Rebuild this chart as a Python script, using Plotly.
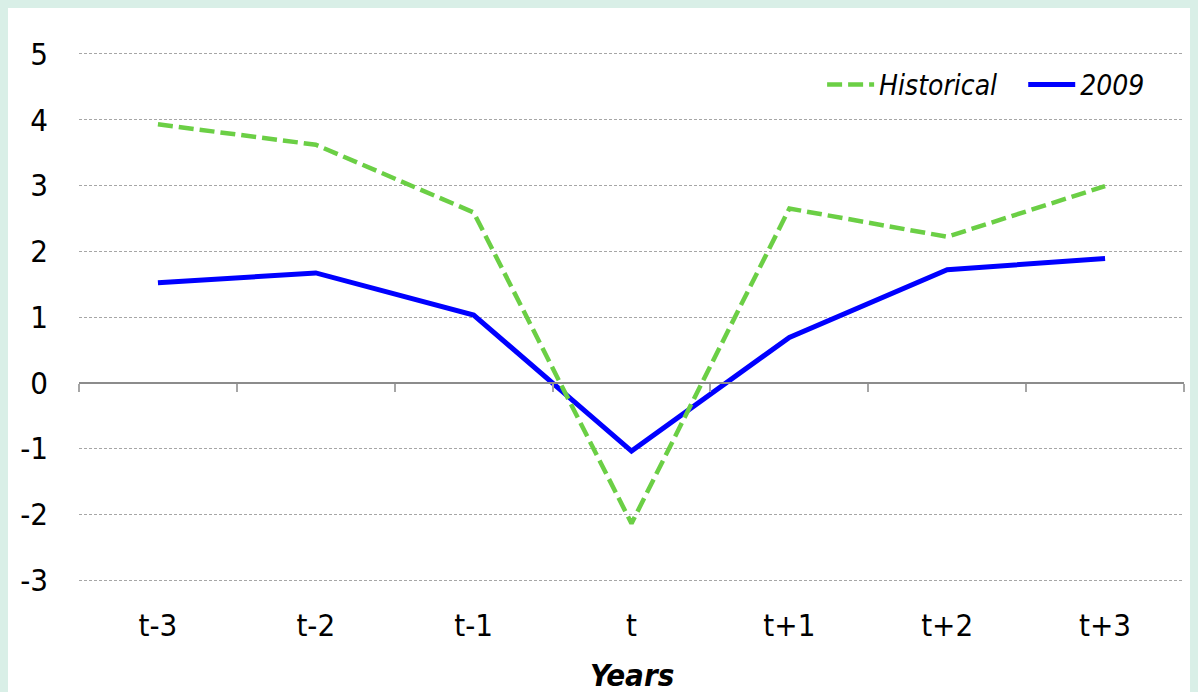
import plotly.graph_objects as go

categories = ["t-3", "t-2", "t-1", "t", "t+1", "t+2", "t+3"]
historical = [3.93, 3.62, 2.59, -2.14, 2.65, 2.22, 2.99]
y2009 = [1.52, 1.67, 1.03, -1.04, 0.69, 1.72, 1.89]
y_ticks = [5, 4, 3, 2, 1, 0, -1, -2, -3]
y_ticktext = ["5", "4", "3", "2", "1", "0", "-1", "-2", "-3"]
x_title = "Years"

xpos = list(range(len(categories)))
boundaries = [i - 0.5 for i in range(len(categories) + 1)]

FONT = "'Liberation Sans Narrow', 'Arial Narrow', 'DejaVu Sans Condensed', 'Liberation Sans', sans-serif"
GREEN = "#6bcf45"
BLUE = "#0000ff"
MINT = "#d9efe7"

fig = go.Figure()
fig.add_trace(go.Scatter(
    x=xpos, y=historical, name="Historical", mode="lines",
    line=dict(color=GREEN, width=4.5, dash="15px,6px"),
    xaxis="x2", yaxis="y", legend="legend",
))
fig.add_trace(go.Scatter(
    x=xpos, y=y2009, name="2009", mode="lines",
    line=dict(color=BLUE, width=5),
    xaxis="x", yaxis="y", legend="legend2",
))

legend_style = dict(
    orientation="h", yanchor="middle", y=0.938, xanchor="left",
    font=dict(family=FONT, size=28, style="italic", color="black"),
    bgcolor="rgba(0,0,0,0)", itemwidth=47,
)

fig.update_layout(
    width=1190, height=685,
    margin=dict(l=71, r=14, t=44, b=111),
    paper_bgcolor="white",
    plot_bgcolor="white",
    font=dict(family=FONT, size=31, color="black"),
    showlegend=True,
    legend=dict(legend_style, x=0.6725),
    legend2=dict(legend_style, x=0.8545),
    xaxis=dict(
        range=[-0.5, 6.5],
        tickvals=xpos, ticktext=categories,
        showgrid=False, zeroline=False, showline=False,
        ticks="", ticklabelstandoff=22,
    ),
    xaxis2=dict(
        range=[-0.5, 6.5], overlaying="x", anchor="free", position=3.03 / 8.06,
        side="bottom",
        tickvals=boundaries, showticklabels=False,
        ticks="outside", ticklen=8, tickwidth=1.5, tickcolor="#a6a6a6",
        showline=True, linecolor="#8c8c8c", linewidth=2,
        showgrid=False, zeroline=False,
    ),
    yaxis=dict(
        range=[-3.03, 5.03],
        tickvals=y_ticks, ticktext=y_ticktext,
        showgrid=True, gridcolor="#a6a6a6", gridwidth=1, griddash="3px,2px",
        zeroline=False, showline=False, ticks="",
        ticklabelstandoff=30,
    ),
    annotations=[dict(
        text="<b><i>" + x_title + "</i></b>",
        xref="paper", yref="paper", x=0.5, y=-0.175,
        xanchor="center", yanchor="middle", showarrow=False,
        font=dict(family=FONT, size=31, color="black"),
    )],
)

fig.write_html(
    "out.html",
    post_script="document.body.style.backgroundColor='" + MINT + "';",
)
